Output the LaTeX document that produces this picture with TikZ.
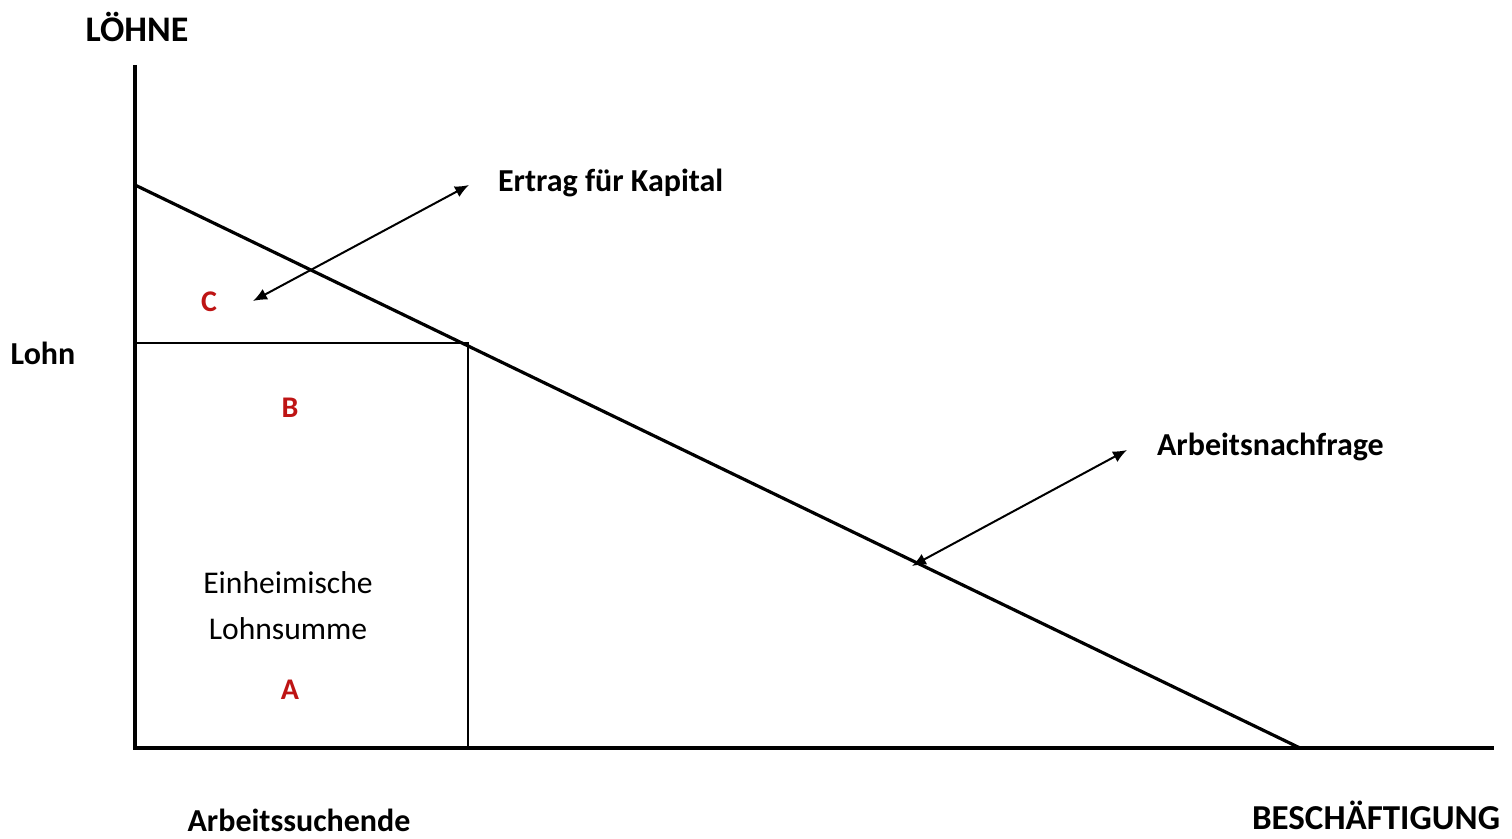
\documentclass[tikz,border=0pt]{standalone}
\usepackage{fontspec}
\setmainfont{Carlito}
\usetikzlibrary{arrows.meta}
\definecolor{areared}{RGB}{190,20,20}
\tikzset{
	lbl/.style={font=\bfseries\fontsize{16}{19}\selectfont},
	area/.style={font=\bfseries\fontsize{15}{18}\selectfont, color=areared},
	pointer/.style={line width=1pt, {Latex[length=7pt,width=6pt]}-{Latex[length=7pt,width=6pt]}}
}
\begin{document}
\begin{tikzpicture}[x=0.5pt, y=-0.5pt]

	\useasboundingbox (0,0) rectangle (1512,839);

	%axis
	\coordinate (origin) at (135,748);
	\coordinate (y top) at (135,65);
	\coordinate (x end) at (1494,748);
	\draw[line width=2pt] (y top) -- (origin) -- (x end);

	%demand
	\coordinate (d top) at (135,185);
	\coordinate (d bot) at (1300,748);
	\draw[line width=1.6pt] (d top) -- (d bot);

	%wage box
	\coordinate (lohn left) at (135,343);
	\coordinate (lohn pt) at (468,343);
	\coordinate (lohn foot) at (468,748);
	\draw[line width=1pt] (lohn left) -- (lohn pt) -- (lohn foot);

	%labels
	\node[font=\bfseries\fontsize{18}{21}\selectfont] (loehne) at (137,27) {LÖHNE};
	\node[lbl] (lohn) at (43,353) {Lohn};
	\node[lbl, anchor=west] (ertrag) at (491,183) {Ertrag für Kapital};
	\node[lbl, anchor=west] (nachfrage) at (1150,447) {Arbeitsnachfrage};
	\node[lbl, anchor=base, inner sep=0pt] (suchende) at (299,832) {Arbeitssuchende};
	\node[font=\bfseries\fontsize{17.5}{20}\selectfont] (besch) at (1376,815) {BESCHÄFTIGUNG};
	\node[font=\fontsize{15.8}{19}\selectfont, align=center] (einh) at (288,606)
		{Einheimische\\[4pt]Lohnsumme};

	\node[area] (C) at (209,302) {C};
	\node[area] (B) at (290,408) {B};
	\node[area] (A) at (290,690) {A};

	%pointers
	\coordinate (c tip) at (253,301);
	\coordinate (e tip) at (469,185);
	\draw[pointer] (c tip) -- (e tip);
	\coordinate (n tip) at (912,566);
	\coordinate (m tip) at (1127,450);
	\draw[pointer] (n tip) -- (m tip);

\end{tikzpicture}
\end{document}
